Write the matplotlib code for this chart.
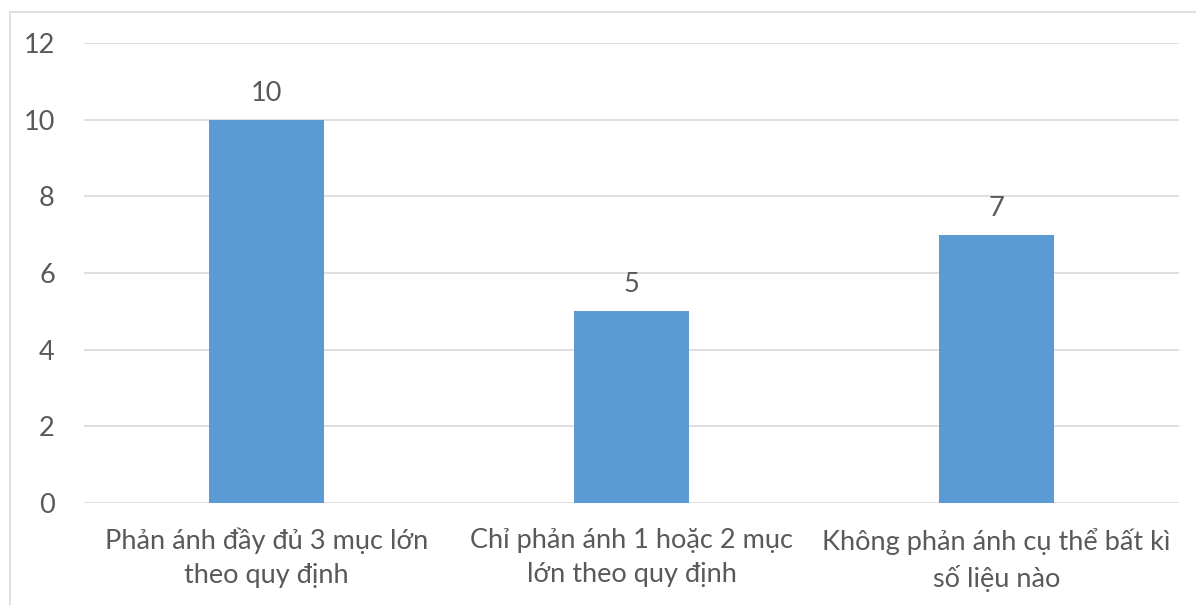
import matplotlib
matplotlib.use("Agg")
import matplotlib.pyplot as plt
from matplotlib.patches import Rectangle

categories = ["Phản ánh đầy đủ 3 mục lớn\ntheo quy định",
              "Chỉ phản ánh 1 hoặc 2 mục\nlớn theo quy định",
              "Không phản ánh cụ thể bất kì\nsố liệu nào"]
values = [10, 5, 7]
yticks = [0, 2, 4, 6, 8, 10, 12]

plt.rcParams['font.family'] = ['Lato', 'DejaVu Sans']
text_color = '#595959'
bar_color = '#5B9BD5'
grid_color = '#D9D9D9'
fs = 19.5

W, H = 1196, 605
fig = plt.figure(figsize=(W / 100, H / 100), dpi=100)
ax = fig.add_axes([84 / W, 1 - 503 / H, (1179 - 84) / W, (503 - 43) / H])

x = list(range(len(categories)))
bars = ax.bar(x, values, width=0.315, color=bar_color, zorder=3)
for b, v in zip(bars, values):
    ax.annotate(str(v), (b.get_x() + b.get_width() / 2, v), xytext=(0, 10),
                textcoords='offset points', ha='center', va='bottom',
                fontsize=fs, color=text_color)

ax.set_xlim(-0.5, len(categories) - 0.5)
ax.set_ylim(0, 12)
ax.set_yticks(yticks)
ax.set_yticklabels([str(t) for t in yticks], fontsize=fs, color=text_color)
ax.set_xticks(x)
ax.set_xticklabels(categories, fontsize=fs, color=text_color, linespacing=1.45)
ax.tick_params(axis='both', length=0)
ax.tick_params(axis='y', pad=21)
ax.tick_params(axis='x', pad=18)
ax.yaxis.grid(True, color=grid_color, linewidth=1.2, zorder=0)
for s in ax.spines.values():
    s.set_visible(False)

# chart frame
fig.patches.append(Rectangle((9.5 / W, -0.1), 1.2, 1 - 11.5 / H + 0.1,
                             transform=fig.transFigure, fill=False,
                             edgecolor='#D9D9D9', linewidth=1.2))

fig.savefig("out.png", dpi=100)
